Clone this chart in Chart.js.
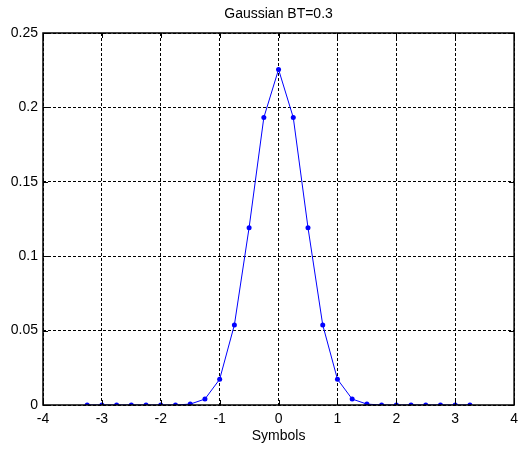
<!DOCTYPE html>
<html>
<head>
<meta charset="utf-8">
<script src="https://cdn.jsdelivr.net/npm/chart.js@4.4.1/dist/chart.umd.min.js"></script>
<style>
html,body{margin:0;padding:0;background:#fff;}
#wrap{width:524px;height:449px;}
</style>
</head>
<body>
<div id="wrap"><canvas id="c" width="524" height="449"></canvas></div>
<script>
const symbols = [-3.25,-3,-2.75,-2.5,-2.25,-2,-1.75,-1.5,-1.25,-1,-0.75,-0.5,-0.25,0,0.25,0.5,0.75,1,1.25,1.5,1.75,2,2.25,2.5,2.75,3,3.25];
const gain = [0,0,0,0,0,0,0,0.0006,0.004,0.0173,0.0538,0.1192,0.1932,0.2255,0.1932,0.1192,0.0538,0.0173,0.004,0.0006,0,0,0,0,0,0,0];
const xTicks = [-4,-3,-2,-1,0,1,2,3,4];
const yTicks = [0,0.05,0.1,0.15,0.2,0.25];
const chartTitle = 'Gaussian BT=0.3';
const xLabel = 'Symbols';

const FONT = '"Liberation Sans", Arial, sans-serif';

const boxPlugin = {
  id: 'box',
  afterDraw(chart) {
    const {ctx, chartArea: a, scales} = chart;
    ctx.save();
    ctx.strokeStyle = '#000';
    ctx.lineWidth = 1.5;
    ctx.setLineDash([]);
    ctx.strokeRect(a.left, a.top, a.right - a.left, a.bottom - a.top);
    ctx.lineWidth = 1;
    const L = 5;
    ctx.beginPath();
    xTicks.forEach(v => {
      const px = Math.round(scales.x.getPixelForValue(v)) + 0.5;
      ctx.moveTo(px, a.bottom); ctx.lineTo(px, a.bottom - L);
      ctx.moveTo(px, a.top); ctx.lineTo(px, a.top + L);
    });
    yTicks.forEach(v => {
      const py = Math.round(scales.y.getPixelForValue(v)) + 0.5;
      ctx.moveTo(a.left, py); ctx.lineTo(a.left + L, py);
      ctx.moveTo(a.right, py); ctx.lineTo(a.right - L, py);
    });
    ctx.stroke();
    // title centred over the plot area
    ctx.fillStyle = '#000';
    ctx.font = '14px ' + FONT;
    ctx.textAlign = 'center';
    ctx.textBaseline = 'middle';
    ctx.fillText(chartTitle, (a.left + a.right) / 2, 14);
    ctx.restore();
  }
};

new Chart(document.getElementById('c'), {
  type: 'scatter',
  data: {
    datasets: [{
      data: symbols.map((x, i) => ({x: x, y: gain[i]})),
      showLine: true,
      borderColor: '#0000ff',
      backgroundColor: '#0000ff',
      borderWidth: 1,
      pointRadius: 2.5,
      pointHoverRadius: 2.5,
      pointBorderWidth: 0,
      tension: 0
    }]
  },
  options: {
    responsive: false,
    animation: false,
    devicePixelRatio: 1,
    layout: {padding: {left: 0, right: 7, top: 33, bottom: 0}},
    plugins: {
      legend: {display: false},
      tooltip: {enabled: false},
      title: {display: false}
    },
    scales: {
      x: {
        type: 'linear',
        min: -4, max: 4,
        afterBuildTicks(s) { s.ticks = xTicks.map(v => ({value: v})); },
        afterFit(s) { s.height = 44; },
        ticks: {color: '#000', font: {family: FONT, size: 14}, padding: 6, maxRotation: 0},
        grid: {color: '#000', lineWidth: 1, drawTicks: false},
        border: {display: false, dash: [3, 2]},
        title: {display: true, text: xLabel, color: '#000', font: {family: FONT, size: 14}, padding: {top: 2, bottom: 4}}
      },
      y: {
        type: 'linear',
        min: 0, max: 0.25,
        afterBuildTicks(s) { s.ticks = yTicks.map(v => ({value: v})); },
        afterFit(s) { s.width = 43; },
        ticks: {color: '#000', font: {family: FONT, size: 14}, padding: 5, callback: v => String(+v.toFixed(2))},
        grid: {color: '#000', lineWidth: 1, drawTicks: false},
        border: {display: false, dash: [3, 2]}
      }
    }
  },
  plugins: [boxPlugin]
});
</script>
</body>
</html>
